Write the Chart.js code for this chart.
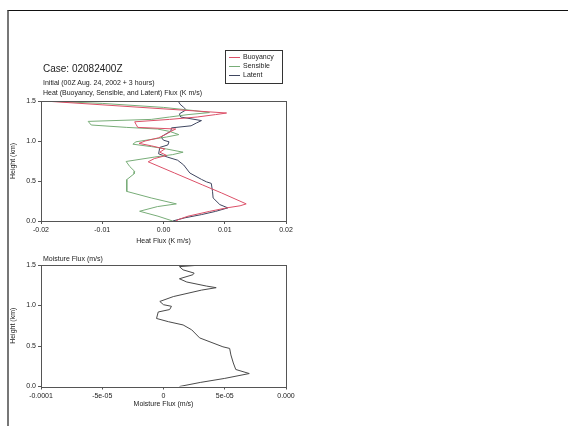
<!DOCTYPE html>
<html>
<head>
<meta charset="utf-8">
<script src="https://cdn.jsdelivr.net/npm/chart.js@4.4.1/dist/chart.umd.min.js"></script>
<style>
  html, body { margin: 0; padding: 0; background: #fff; }
  body { width: 568px; height: 426px; position: relative; overflow: hidden;
         font-family: "Liberation Sans", Arial, sans-serif; color: #222; }
  .frame { position: absolute; left: 7px; top: 10px; width: 600px; height: 500px;
           border-top: 1px solid #111; border-left: 2px solid #777; }
  canvas { position: absolute; left: 0; }
  .txt { position: absolute; left: 43px; white-space: nowrap; line-height: 1; }
</style>
</head>
<body>
<div class="frame"></div>
<canvas id="chartHeat" width="568" height="250" style="top:0"></canvas>
<canvas id="chartMoist" width="568" height="176" style="top:250px"></canvas>
<div class="txt" style="top:64px;font-size:10px">Case: 02082400Z</div>
<div class="txt" style="top:79px;font-size:7px">Initial (00Z Aug. 24, 2002 + 3 hours)</div>
<div class="txt" style="top:89px;font-size:7px">Heat (Buoyancy, Sensible, and Latent) Flux (K m/s)</div>
<div class="txt" style="top:255px;font-size:7px">Moisture Flux (m/s)</div>
<script>
// ── Perfiles de flujo de calor (K m/s) vs altura (km) ─────────
const alturaBuoyancy = [1.5, 1.35, 1.33, 1.30, 1.27, 1.24, 1.21, 1.17, 1.15, 1.12, 1.08, 1.04, 1.00, 0.97, 0.94,
                        0.90, 0.86, 0.82, 0.78, 0.74, 0.60, 0.45, 0.35, 0.214, 0.19, 0.164, 0.12, 0.06, 0.02, 0.0];
const buoyancy       = [-0.0195, 0.0103, 0.0085, 0.0055, 0.001, -0.0047, -0.0045, -0.0042, 0.002, 0.0012, 0.0003,
                        -0.0008, -0.003, -0.004, -0.002, 0.0002, -0.0006, 0.0005, -0.0015, -0.0025, 0.0018, 0.0064,
                        0.0095, 0.0135, 0.0125, 0.0103, 0.0075, 0.004, 0.0025, 0.002];

const alturaSensible = [1.5, 1.47, 1.42, 1.38, 1.355, 1.33, 1.30, 1.27, 1.245, 1.20, 1.17, 1.15, 1.12, 1.08, 1.05,
                        1.02, 0.99, 0.96, 0.93, 0.90, 0.86, 0.83, 0.80, 0.744, 0.68, 0.62, 0.59, 0.517, 0.455, 0.37,
                        0.288, 0.214, 0.18, 0.122, 0.06, 0.0];
const sensible       = [-0.0195, -0.01, 0.0, 0.005, 0.0075, 0.004, 0.001, -0.002, -0.0123, -0.0118, -0.006, -0.001,
                        0.001, 0.0025, 0.0005, -0.002, -0.0045, -0.005, -0.002, 0.0005, 0.0032, 0.0015, -0.0014,
                        -0.0061, -0.0055, -0.0047, -0.0048, -0.006, -0.006, -0.006, -0.002, 0.0021, -0.001, -0.0039,
                        -0.0009, 0.0015];

const alturaLatent   = [1.5, 1.46, 1.42, 1.39, 1.34, 1.30, 1.255, 1.226, 1.19, 1.164, 1.122, 1.08, 1.05, 1.01,
                        0.99, 0.95, 0.92, 0.84, 0.80, 0.76, 0.70, 0.60, 0.52, 0.49, 0.47, 0.371, 0.288, 0.205,
                        0.164, 0.12, 0.08, 0.04, 0.0];
const latent         = [0.0024, 0.0027, 0.0033, 0.0037, 0.0026, 0.0028, 0.0062, 0.0054, 0.0045, 0.0013, 0.0012,
                        0.0002, -0.0004, 0.0, 0.0009, 0.0007, -0.0006, -0.0008, 0.0006, 0.0023, 0.0033, 0.0043,
                        0.0062, 0.007, 0.0078, 0.008, 0.0081, 0.0092, 0.0105, 0.0085, 0.0062, 0.0035, 0.0015];

// ── Flujo de humedad (m/s) ────────────────────────────────────
const alturaMoisture = [1.5, 1.48, 1.44, 1.40, 1.38, 1.33, 1.29, 1.24, 1.22, 1.19, 1.11, 1.05, 1.01, 0.99, 0.95,
                        0.92, 0.84, 0.80, 0.76, 0.70, 0.60, 0.49, 0.47, 0.39, 0.29, 0.21, 0.16, 0.10, 0.05, 0.0];
const moisture       = [3.1e-5, 1.3e-5, 1.6e-5, 2.5e-5, 2.4e-5, 1.3e-5, 1.9e-5, 3.5e-5, 4.3e-5, 3.1e-5, 0.8e-5,
                        -0.3e-5, 0, 0.65e-5, 0.5e-5, -0.43e-5, -0.57e-5, 0.4e-5, 1.6e-5, 2.3e-5, 2.95e-5, 4.85e-5,
                        5.4e-5, 5.5e-5, 5.7e-5, 5.9e-5, 7.0e-5, 5.0e-5, 3.0e-5, 1.3e-5];

// ── Etiquetas de ejes ─────────────────────────────────────────
const ticksHeat     = ['-0.02', '-0.01', '0.00', '0.01', '0.02'];
const ticksMoisture = ['-0.0001', '-5e-05', '0', '5e-05', '0.000'];
const ticksAltura   = ['0.0', '0.5', '1.0', '1.5'];

const FONT = 'Liberation Sans';
const COLOR_BUOY  = '#dc5068';
const COLOR_SENS  = '#78ad78';
const COLOR_LAT   = '#3f4660';
const COLOR_MOIST = '#4a4a4a';

function puntos(xs, ys) {
    return xs.map((x, i) => ({ x: x, y: ys[i] }));
}

function serie(label, xs, ys, color) {
    return {
        label: label,
        data: puntos(xs, ys),
        showLine: true,
        borderColor: color,
        backgroundColor: color,
        borderWidth: 1,
        pointRadius: 0,
        tension: 0
    };
}

// Recuadro completo alrededor del área de la gráfica
const marcoPlugin = {
    id: 'marco',
    afterDraw(chart) {
        const a = chart.chartArea, c = chart.ctx;
        c.save();
        c.strokeStyle = '#555';
        c.lineWidth = 1;
        c.strokeRect(Math.round(a.left) + 0.5, Math.round(a.top) + 0.5,
                     Math.round(a.right - a.left), Math.round(a.bottom - a.top));
        c.restore();
    }
};

// Leyenda en caja arriba a la derecha
const leyendaPlugin = {
    id: 'leyenda',
    afterDraw(chart) {
        const c = chart.ctx;
        c.save();
        c.strokeStyle = '#333';
        c.lineWidth = 1;
        c.strokeRect(225.5, 50.5, 57, 33);
        c.font = '7px "' + FONT + '"';
        c.textBaseline = 'middle';
        chart.data.datasets.forEach((ds, i) => {
            const y = 57 + i * 9;
            c.strokeStyle = ds.borderColor;
            c.beginPath();
            c.moveTo(229, y + 0.5);
            c.lineTo(240, y + 0.5);
            c.stroke();
            c.fillStyle = '#222';
            c.fillText(ds.label, 243, y);
        });
        c.restore();
    }
};

function opciones(xMin, xMax, xStep, xLabels, xTitle, pad, titlePad) {
    return {
        responsive: false,
        animation: false,
        layout: { padding: pad },
        plugins: { legend: { display: false }, tooltip: { enabled: false } },
        scales: {
            x: {
                type: 'linear',
                min: xMin, max: xMax,
                afterFit(s) { s.height = 26; },
                afterBuildTicks(s) {
                    s.ticks = xLabels.map((_, i) => ({ value: xMin + i * xStep }));
                },
                ticks: {
                    autoSkip: false, maxRotation: 0, padding: 2,
                    color: '#222', font: { family: FONT, size: 7 },
                    callback: (v, i) => xLabels[i]
                },
                grid: { drawOnChartArea: false, drawTicks: true, tickLength: 3, color: '#555' },
                border: { display: false },
                title: { display: true, text: xTitle, color: '#222',
                         font: { family: FONT, size: 7 }, padding: { top: 0, bottom: titlePad } }
            },
            y: {
                type: 'linear',
                min: 0, max: 1.5,
                afterFit(s) { s.width = 36; },
                afterBuildTicks(s) {
                    s.ticks = ticksAltura.map(t => ({ value: parseFloat(t) }));
                },
                ticks: {
                    autoSkip: false, padding: 2,
                    color: '#222', font: { family: FONT, size: 7 },
                    callback: (v, i) => ticksAltura[i]
                },
                grid: { drawOnChartArea: false, drawTicks: true, tickLength: 3, color: '#555' },
                border: { display: false },
                title: { display: true, text: 'Height (km)', color: '#222',
                         font: { family: FONT, size: 7 }, padding: { top: 4, bottom: 0 } }
            }
        }
    };
}

// ── Gráfica 1: flujos de calor ───────────────────────────────
new Chart(document.getElementById('chartHeat'), {
    type: 'scatter',
    data: {
        datasets: [
            serie('Buoyancy', buoyancy, alturaBuoyancy, COLOR_BUOY),
            serie('Sensible', sensible, alturaSensible, COLOR_SENS),
            serie('Latent', latent, alturaLatent, COLOR_LAT)
        ]
    },
    options: opciones(-0.02, 0.02, 0.01, ticksHeat, 'Heat Flux (K m/s)',
                      { left: 5, right: 282, top: 101, bottom: 3 }, 2),
    plugins: [marcoPlugin, leyendaPlugin]
});

// ── Gráfica 2: flujo de humedad ──────────────────────────────
new Chart(document.getElementById('chartMoist'), {
    type: 'scatter',
    data: {
        datasets: [serie('Moisture', moisture, alturaMoisture, COLOR_MOIST)]
    },
    options: opciones(-1e-4, 1e-4, 5e-5, ticksMoisture, 'Moisture Flux (m/s)',
                      { left: 5, right: 282, top: 15, bottom: 13.5 }, 4),
    plugins: [marcoPlugin]
});
</script>
</body>
</html>
